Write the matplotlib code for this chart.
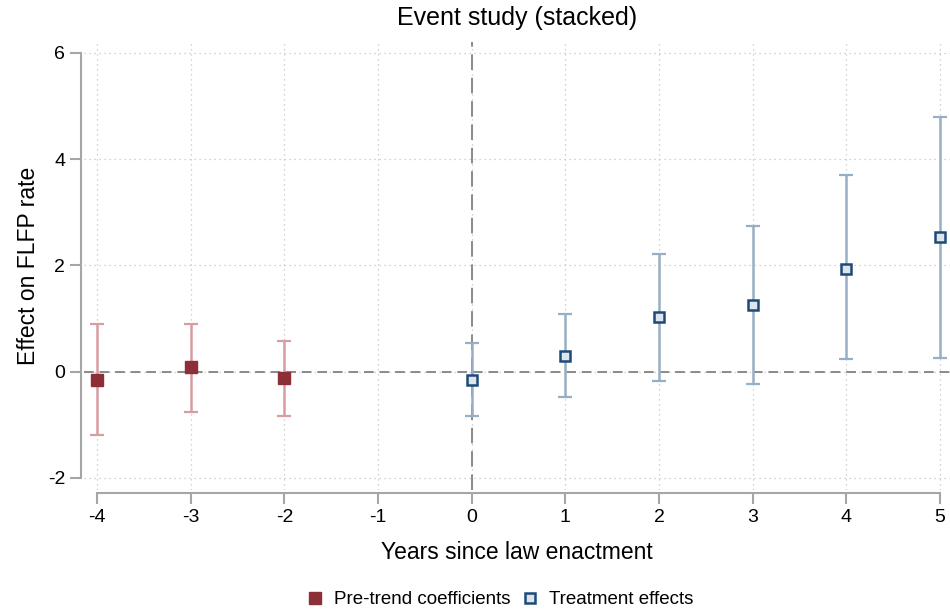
import matplotlib.pyplot as plt
import numpy as np

plt.rcParams['font.family'] = ['Liberation Sans', 'DejaVu Sans']
plt.rcParams['axes.unicode_minus'] = False

# pre-trend coefficients
pre_x = [-4, -3, -2]
pre_b = [-0.15, 0.08, -0.13]
pre_lo = [-1.19, -0.77, -0.84]
pre_hi = [0.90, 0.90, 0.57]

# treatment effects
post_x = [0, 1, 2, 3, 4, 5]
post_b = [-0.15, 0.29, 1.02, 1.26, 1.94, 2.53]
post_lo = [-0.83, -0.48, -0.17, -0.23, 0.23, 0.26]
post_hi = [0.53, 1.08, 2.21, 2.74, 3.70, 4.79]

xticks = [-4, -3, -2, -1, 0, 1, 2, 3, 4, 5]
yticks = [-2, 0, 2, 4, 6]

red = '#8c2f36'
red_ci = '#d99ca1'
navy = '#1d4a78'
blue_ci = '#98aec4'

fig = plt.figure(figsize=(9.5, 6.14), dpi=100)
ax = fig.add_axes([0.0884, 0.202, 0.9116, 0.730])

ax.set_xlim(-4.14, 5.107)
ax.set_ylim(-2.23, 6.21)

ax.set_xticks(xticks)
ax.set_yticks(yticks)
ax.grid(True, linestyle=(0, (1, 3)), color='#c4c4c4', linewidth=0.9)
ax.set_axisbelow(True)

ax.axhline(0, color='#8a8a8a', linestyle=(0, (5, 3)), linewidth=1.4, zorder=1)
ax.axvline(0, color='#8a8a8a', linestyle=(0, (8, 4)), linewidth=1.4, zorder=1)

pre_b = np.array(pre_b)
post_b = np.array(post_b)
pre_err = [pre_b - np.array(pre_lo), np.array(pre_hi) - pre_b]
post_err = [post_b - np.array(post_lo), np.array(post_hi) - post_b]

ax.errorbar(pre_x, pre_b, yerr=pre_err, fmt='none', ecolor=red_ci,
            elinewidth=1.8, capsize=5, capthick=1.6, zorder=2)
ax.plot(pre_x, pre_b, 's', color=red, markersize=9, zorder=3,
        label='Pre-trend coefficients', linestyle='none')

ax.errorbar(post_x, post_b, yerr=post_err, fmt='none', ecolor=blue_ci,
            elinewidth=1.8, capsize=5, capthick=1.6, zorder=2)
ax.plot(post_x, post_b, 's', markerfacecolor='#dde4ec', markeredgecolor=navy,
        markeredgewidth=1.8, markersize=6.5, zorder=3,
        label='Treatment effects', linestyle='none')

for side in ['top', 'right']:
    ax.spines[side].set_visible(False)
ax.spines['left'].set_bounds(-2, 6)
ax.spines['bottom'].set_bounds(-4, 5)
ax.spines['left'].set_position(('outward', 2))
ax.spines['bottom'].set_position(('outward', 2))
for side in ['left', 'bottom']:
    ax.spines[side].set_color('#a6a6a6')
    ax.spines[side].set_linewidth(1.5)
ax.tick_params(axis='both', colors='#a6a6a6', width=1.5, length=8,
               labelsize=14, labelcolor='black')

ax.set_title('Event study (stacked)', fontsize=18, pad=12)
ax.set_xlabel('Years since law enactment', fontsize=16.5, labelpad=11)
ax.set_ylabel('Effect on FLFP rate', fontsize=16.5, labelpad=6)

fig.legend(loc='lower center', bbox_to_anchor=(0.526, -0.018), ncol=2,
           frameon=False, fontsize=13.5, handletextpad=0.5, columnspacing=0.55,
           handlelength=1.0)

fig.savefig('out.png', dpi=100)
